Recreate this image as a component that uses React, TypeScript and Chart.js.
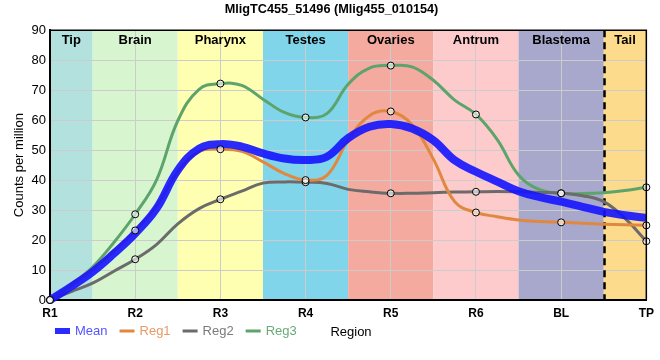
import React, { useEffect, useRef } from "react";
import { Chart, registerables } from "chart.js";

Chart.register(...registerables);

// ---- data ----
const categories = ["R1", "R2", "R3", "R4", "R5", "R6", "BL", "TP"];
// sample positions along the region axis (category index, quarter steps)
const xPositions = [
  0, 0.25, 0.5, 0.75, 1, 1.25, 1.5, 1.75, 2, 2.25, 2.5, 2.75, 3, 3.25, 3.5, 3.75,
  4, 4.25, 4.5, 4.75, 5, 5.25, 5.5, 5.75, 6, 6.25, 6.5, 6.75, 7,
];
const meanValues = [
  0, 4.5, 9.4, 15.5, 22.2, 30.5, 43.3, 50.5, 52.0, 51.2, 48.9, 47.2, 46.7, 47.8, 54.0, 57.8,
  58.7, 57.2, 53.3, 46.6, 42.8, 39.5, 36.3, 34.3, 32.8, 31.1, 29.4, 28.3, 27.4,
];
const reg1Values = [
  0, 4.8, 10.2, 16.3, 23.2, 31.3, 42.8, 49.5, 50.3, 49.6, 46.1, 42.2, 40.0, 41.6, 53.3, 61.5,
  62.9, 58.5, 47.0, 32.8, 29.2, 27.8, 26.7, 26.2, 25.9, 25.6, 25.3, 25.1, 24.9,
];
const reg2Values = [
  0, 2.8, 5.6, 9.6, 13.6, 18.5, 25.4, 30.5, 33.6, 36.3, 39.0, 39.4, 39.3, 38.9, 36.9, 36.1,
  35.6, 35.6, 35.8, 36.0, 36.1, 36.2, 36.1, 35.9, 35.6, 34.8, 32.8, 27.2, 19.6,
];
const reg3Values = [
  0, 5.2, 11.0, 19.2, 28.6, 40.0, 59.8, 70.3, 72.2, 71.6, 67.0, 62.6, 60.9, 62.2, 72.0, 77.4,
  78.2, 77.8, 73.3, 66.7, 61.9, 53.5, 41.7, 36.8, 35.6, 35.5, 35.8, 36.5, 37.6,
];
const regionNames = ["Tip", "Brain", "Pharynx", "Testes", "Ovaries", "Antrum", "Blastema", "Tail"];
const yMin = 0;
const yMax = 90;
const yStep = 10;
const titleText = "MligTC455_51496 (Mlig455_010154)";
const yTitle = "Counts per million";
const xTitle = "Region";

// ---- styles ----
const regionColors = ["#b3e2de", "#d7f5cf", "#ffffb2", "#80d5ea", "#f4aa9e", "#fdcbcb", "#a8a8cd", "#fddb8c"];
const FONT = "'Liberation Sans', Arial, sans-serif";
const seriesColors = ["rgba(20,20,255,0.9)", "#e0883f", "#6b6b6b", "#5ca46b"];
const legendTextColors = ["#5555ff", "#e89a66", "#7a7a7a", "#6aaa78"];

const toPoints = (vals: number[]) => vals.map((v, i) => ({ x: xPositions[i], y: v }));

const bandsPlugin = {
  id: "bands",
  beforeDraw(chart: any) {
    const { ctx, chartArea } = chart;
    const x = chart.scales.x;
    const n = categories.length;
    ctx.save();
    for (let i = 0; i < regionNames.length; i++) {
      const s = Math.max(0, i - 0.5);
      const e = Math.min(n - 1, i + 0.5);
      const x0 = x.getPixelForValue(s);
      const x1 = x.getPixelForValue(e);
      ctx.fillStyle = regionColors[i];
      ctx.fillRect(x0, chartArea.top, x1 - x0, chartArea.bottom - chartArea.top);
    }
    ctx.restore();
  },
  beforeDatasetsDraw(chart: any) {
    const { ctx, chartArea } = chart;
    const x = chart.scales.x;
    const n = categories.length;
    ctx.save();
    ctx.fillStyle = "#000";
    ctx.font = `bold 13px ${FONT}`;
    ctx.textAlign = "center";
    ctx.textBaseline = "middle";
    for (let i = 0; i < regionNames.length; i++) {
      const s = Math.max(0, i - 0.5);
      const e = Math.min(n - 1, i + 0.5);
      const cx = (x.getPixelForValue(s) + x.getPixelForValue(e)) / 2;
      ctx.fillText(regionNames[i], cx, chartArea.top + 10);
    }
    const dx = Math.round(x.getPixelForValue(n - 1.5)) + 0.5;
    ctx.strokeStyle = "#000";
    ctx.lineWidth = 2.5;
    ctx.setLineDash([7, 5]);
    ctx.beginPath();
    ctx.moveTo(dx, chartArea.top);
    ctx.lineTo(dx, chartArea.bottom);
    ctx.stroke();
    ctx.restore();
  },
  afterDraw(chart: any) {
    const { ctx, chartArea } = chart;
    ctx.save();
    ctx.strokeStyle = "#000";
    ctx.lineWidth = 1.5;
    ctx.beginPath();
    ctx.moveTo(chartArea.left, chartArea.top);
    ctx.lineTo(chartArea.right, chartArea.top);
    ctx.lineTo(chartArea.right, chartArea.bottom);
    ctx.stroke();
    // legend
    const ly = 331;
    let lx = 55;
    ctx.font = `13px ${FONT}`;
    ctx.textBaseline = "middle";
    ctx.textAlign = "left";
    let k = 0;
    chart.data.datasets.forEach((ds: any) => {
      if (!ds.inLegend) return;
      const h = Math.min(ds.borderWidth, 6);
      ctx.fillStyle = ds.borderColor;
      ctx.fillRect(lx, ly - h / 2, 15, h);
      lx += 20;
      ctx.fillStyle = legendTextColors[k++];
      ctx.fillText(ds.label, lx, ly);
      lx += ctx.measureText(ds.label).width + 12;
    });
    ctx.fillStyle = "#000";
    ctx.textAlign = "center";
    ctx.fillText(xTitle, 351, ly + 1);
    ctx.restore();
  },
};

export default function App() {
  const ref = useRef<HTMLCanvasElement | null>(null);
  useEffect(() => {
    if (!ref.current) return;
    const lineDs = (label: string, vals: number[], color: string, width: number, order: number) => ({
      label,
      inLegend: true,
      data: toPoints(vals),
      borderColor: color,
      backgroundColor: color,
      borderWidth: width,
      order,
      tension: 0.4,
      pointRadius: 0,
      pointHoverRadius: 0,
      clip: false as any,
      fill: false,
    });
    const markerDs = (label: string, vals: number[]) => ({
      label: label + " points",
      inLegend: false,
      data: toPoints(vals).filter((p) => Number.isInteger(p.x)),
      showLine: false,
      order: 0,
      pointRadius: 3.5,
      pointHoverRadius: 3.5,
      pointBorderColor: "#000",
      pointBorderWidth: 1,
      pointBackgroundColor: "rgba(255,255,255,0.6)",
      borderColor: "#000",
      clip: false as any,
    });
    const chart = new Chart(ref.current, {
      type: "line",
      data: {
        datasets: [
          lineDs("Mean", meanValues, seriesColors[0], 8, 1),
          lineDs("Reg1", reg1Values, seriesColors[1], 3, 2),
          lineDs("Reg2", reg2Values, seriesColors[2], 3, 2),
          lineDs("Reg3", reg3Values, seriesColors[3], 3, 2),
          markerDs("Reg1", reg1Values),
          markerDs("Reg2", reg2Values),
          markerDs("Reg3", reg3Values),
        ] as any,
      },
      options: {
        animation: false,
        responsive: false,
        maintainAspectRatio: false,
        devicePixelRatio: 1,
        layout: { padding: { top: 0, left: 12, right: 9, bottom: 0 } },
        plugins: {
          legend: { display: false },
          tooltip: { enabled: false },
          title: {
            display: true,
            text: titleText,
            color: "#000",
            font: { family: FONT, size: 12.7, weight: "bold" },
            padding: { top: 2, bottom: 13 },
          },
        },
        scales: {
          x: {
            type: "linear",
            min: 0,
            max: categories.length - 1,
            offset: false,
            grid: { color: "#cccccc", drawTicks: false },
            border: { color: "#000", width: 2 },
            ticks: {
              stepSize: 1,
              color: "#000",
              font: { family: FONT, size: 12, weight: "bold" },
              padding: 6,
              maxRotation: 0,
              autoSkip: false,
              callback: (v: any) => categories[v as number] ?? "",
            },
            afterFit: (s: any) => { s.height = 60; },
          },
          y: {
            min: yMin,
            max: yMax,
            grid: { color: "#cccccc", drawTicks: false },
            border: { color: "#000", width: 2 },
            ticks: { stepSize: yStep, color: "#000", font: { family: FONT, size: 13 }, padding: 4 },
            title: { display: true, text: yTitle, color: "#000", font: { family: FONT, size: 13 }, padding: 0 },
            afterFit: (s: any) => { s.width = 38; },
          },
        },
      },
      plugins: [bandsPlugin],
    });
    return () => chart.destroy();
  }, []);
  return (
    <div style={{ position: "absolute", left: 0, top: 0, width: 660, height: 360, background: "#fff" }}>
      <canvas ref={ref} width={660} height={360} />
    </div>
  );
}
